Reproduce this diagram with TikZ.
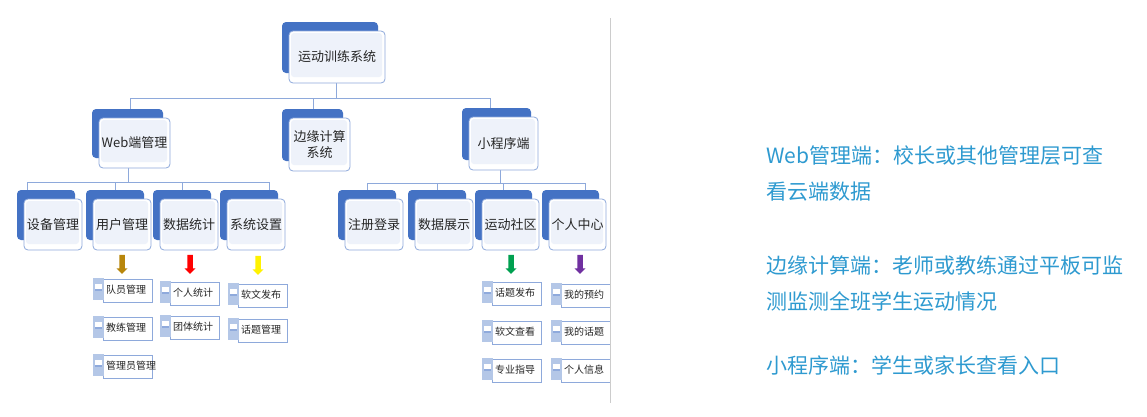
\documentclass[tikz,border=0pt]{standalone}
\usepackage{fontspec}
\setmainfont{Noto Sans CJK SC}
\usetikzlibrary{shapes.arrows}
\definecolor{back}{HTML}{4472C4}
\definecolor{frontfill}{HTML}{EEF2FA}
\definecolor{frontline}{HTML}{8EA9DB}
\definecolor{conn}{HTML}{8EA9DB}
\definecolor{rtext}{HTML}{2E9AD0}
\tikzset{
 x=1pt,y=-1pt,
 conline/.style={draw=conn,line width=0.9pt},
 lbl/.style={font=\fontsize{13}{16}\selectfont,align=center,text=black!85},
 leaf/.style={font=\fontsize{10}{12}\selectfont,text=black!85,anchor=west,inner sep=1pt},
 sarrow/.style={single arrow,draw=none,minimum height=19pt,minimum width=11pt,single arrow head extend=2pt,shape border rotate=270,inner sep=1.8pt},
}
\newcommand{\mybox}[6]{%
 \fill[back,rounded corners=4pt] (#1,#2) rectangle (#3-7,#4-10);
 \filldraw[fill=white,draw=frontline,line width=0.8pt,rounded corners=4pt] (#1+7,#2+9) rectangle (#3,#4);
 \fill[frontfill,rounded corners=3pt] (#1+9,#2+11) rectangle (#3-3,#4-6);
 \node[lbl] (#5) at ({(#1+7+#3)/2},{(#2+9+#4)/2}) {#6};}
\newcommand{\myleaf}[4]{%
 \filldraw[fill=white,draw=frontline,line width=0.7pt] (#1+10,#2-11) rectangle (#1+59,#2+12);
 \fill[back!40] (#1,#2-12) rectangle (#1+11,#2+10);
 \fill[white] (#1+2,#2-6) rectangle (#1+9,#2+1);
 \fill[back!60] (#1+2,#2-1) rectangle (#1+9,#2+1);
 \node[leaf] (#3) at (#1+12,#2) {#4};}
\begin{document}
\begin{tikzpicture}
\useasboundingbox (0,0) rectangle (1147,416);
\fill[white] (0,0) rectangle (1147,416);
\draw[conline] (336,83) -- (336,98);
\draw[conline] (130,109) -- (130,98) -- (490,98) -- (490,109);
\draw[conline] (313,109) -- (313,98);
\draw[conline] (128,168) -- (128,182);
\draw[conline] (27,190) -- (27,182) -- (269,182) -- (269,190);
\draw[conline] (115,190) -- (115,182); \draw[conline] (182,190) -- (182,182);
\draw[conline] (500,170) -- (500,183);
\draw[conline] (367,190) -- (367,183) -- (585,183) -- (585,190);
\draw[conline] (437,190) -- (437,183); \draw[conline] (503,190) -- (503,183);
\mybox{282}{22}{385}{83}{root}{运动训练系统}
\mybox{92}{109}{170}{168}{web}{Web端管理}
\mybox{282}{109}{350}{171}{edge}{边缘计算\\系统}
\mybox{462}{108}{538}{170}{mini}{小程序端}
\mybox{17}{190}{82}{250}{a1}{设备管理}
\mybox{86}{190}{151}{250}{a2}{用户管理}
\mybox{153}{190}{218}{250}{a3}{数据统计}
\mybox{220}{190}{285}{250}{a4}{系统设置}
\mybox{338}{190}{403}{250}{b1}{注册登录}
\mybox{408}{190}{473}{250}{b2}{数据展示}
\mybox{475}{190}{539}{250}{b3}{运动社区}
\mybox{542}{190}{606}{250}{b4}{个人中心}
\node[sarrow,fill={rgb,255:red,184;green,134;blue,11}] (ar1) at (122,263) {};
\node[sarrow,fill=red] (ar2) at (190,263) {};
\node[sarrow,fill=yellow] (ar3) at (258,264) {};
\node[sarrow,fill={rgb,255:red,0;green,160;blue,80}] (ar4) at (511,263) {};
\node[sarrow,fill={rgb,255:red,112;green,48;blue,160}] (ar5) at (580,263) {};
\myleaf{93}{290}{l1}{队员管理}
\myleaf{93}{328}{l2}{教练管理}
\myleaf{93}{366}{l3}{管理员管理}
\myleaf{160}{293}{l4}{个人统计}
\myleaf{160}{327}{l5}{团体统计}
\myleaf{228}{295}{l6}{软文发布}
\myleaf{228}{330}{l7}{话题管理}
\myleaf{482}{293}{l8}{话题发布}
\myleaf{482}{332}{l9}{软文查看}
\myleaf{482}{370}{l10}{专业指导}
\myleaf{551}{295}{l11}{我的预约}
\myleaf{551}{332}{l12}{我的话题}
\myleaf{551}{370}{l13}{个人信息}
\draw[black!20,line width=1pt] (610,18) -- (610,403);
\begin{scope}[every node/.style={anchor=west,text=rtext,font=\fontsize{21}{25}\selectfont,inner sep=0pt}]
\node (r1) at (766,156) {Web管理端：校长或其他管理层可查};
\node (r2) at (766,192) {看云端数据};
\node (r3) at (766,265) {边缘计算端：老师或教练通过平板可监};
\node (r4) at (766,301) {测监测全班学生运动情况};
\node (r5) at (766,365) {小程序端：学生或家长查看入口};
\end{scope}
\end{tikzpicture}
\end{document}
